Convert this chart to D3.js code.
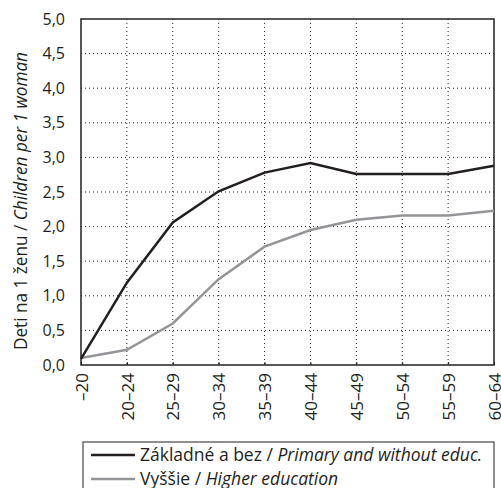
<!DOCTYPE html>
<html>
<head>
<meta charset="utf-8">
<script src="https://cdn.jsdelivr.net/npm/d3@7"></script>
<style>
  body { margin: 0; background: #fff; }
  svg text { font-family: "Open Sans", "DejaVu Sans", sans-serif; fill: #231f20; }
</style>
</head>
<body>
<svg id="chart" width="501" height="488"></svg>
<script>
const ageGroups = ["–20", "20–24", "25–29", "30–34", "35–39", "40–44", "45–49", "50–54", "55–59", "60–64"];
const primaryValues = [0.09, 1.19, 2.06, 2.51, 2.78, 2.92, 2.76, 2.76, 2.76, 2.88];
const higherValues = [0.10, 0.22, 0.60, 1.24, 1.71, 1.95, 2.10, 2.16, 2.16, 2.23];
const yTicks = [0, 0.5, 1, 1.5, 2, 2.5, 3, 3.5, 4, 4.5, 5];
const seriesNames = [
  { main: "Základné a bez / ", en: "Primary and without educ." },
  { main: "Vyššie / ", en: "Higher education" }
];

const margin = { top: 19, right: 7, bottom: 123, left: 81 };
const width = 501, height = 488;

const svg = d3.select("#chart");

const x = d3.scalePoint()
  .domain(ageGroups)
  .range([margin.left, width - margin.right]);

const y = d3.scaleLinear()
  .domain([0, 5])
  .range([height - margin.bottom, margin.top]);

// grid
const grid = svg.append("g");
grid.selectAll("line.h")
  .data(yTicks.slice(1, -1))
  .join("line")
  .attr("x1", margin.left).attr("x2", width - margin.right)
  .attr("y1", d => y(d)).attr("y2", d => y(d))
  .attr("stroke", "#231f20").attr("stroke-width", 1)
  .attr("stroke-dasharray", "1,3");
grid.selectAll("line.v")
  .data(ageGroups.slice(1, -1))
  .join("line")
  .attr("x1", d => x(d)).attr("x2", d => x(d))
  .attr("y1", margin.top).attr("y2", height - margin.bottom)
  .attr("stroke", "#231f20").attr("stroke-width", 1)
  .attr("stroke-dasharray", "1,3");

// frame
svg.append("rect")
  .attr("x", margin.left).attr("y", margin.top)
  .attr("width", width - margin.left - margin.right)
  .attr("height", height - margin.top - margin.bottom)
  .attr("fill", "none").attr("stroke", "#231f20").attr("stroke-width", 1.5);

// y axis
const yAxis = svg.append("g")
  .attr("transform", `translate(${margin.left},0)`)
  .call(d3.axisLeft(y).tickValues(yTicks).tickSize(0).tickPadding(16)
    .tickFormat(d => d3.format(".1f")(d).replace(".", ",")));
yAxis.select(".domain").remove();
yAxis.selectAll("text").style("font-size", "16px").style("font-family", "Open Sans, sans-serif");

// x axis
const xAxis = svg.append("g")
  .attr("transform", `translate(0,${height - margin.bottom})`)
  .call(d3.axisBottom(x).tickSize(-3));
xAxis.select(".domain").remove();
xAxis.selectAll("line").attr("stroke", "#231f20");
xAxis.selectAll("text")
  .attr("transform", "rotate(-90)")
  .attr("x", -8).attr("y", 0).attr("dy", "0.36em")
  .attr("text-anchor", "end")
  .style("font-size", "17px").style("font-family", "Open Sans, sans-serif");

// y title
const yTitle = svg.append("text")
  .attr("transform", "translate(27,201) rotate(-90)")
  .attr("text-anchor", "middle")
  .attr("textLength", 298)
  .attr("lengthAdjust", "spacingAndGlyphs")
  .style("font-size", "18px");
yTitle.append("tspan").text("Deti na 1 ženu / ");
yTitle.append("tspan").style("font-style", "italic").text("Children per 1 woman");

// lines
const line = d3.line()
  .x((d, i) => x(ageGroups[i]))
  .y(d => y(d));

svg.append("path").datum(higherValues)
  .attr("d", line).attr("fill", "none")
  .attr("stroke", "#939598").attr("stroke-width", 2.5);
svg.append("path").datum(primaryValues)
  .attr("d", line).attr("fill", "none")
  .attr("stroke", "#231f20").attr("stroke-width", 2.5);

// legend
const legend = svg.append("g");
legend.append("rect")
  .attr("x", 83).attr("y", 442).attr("width", 411).attr("height", 60)
  .attr("fill", "none").attr("stroke", "#231f20").attr("stroke-width", 1);
const colors = ["#231f20", "#939598"];
seriesNames.forEach((s, i) => {
  const ly = 455 + i * 24;
  legend.append("line")
    .attr("x1", 91).attr("x2", 135).attr("y1", ly).attr("y2", ly)
    .attr("stroke", colors[i]).attr("stroke-width", 2.5);
  const t = legend.append("text")
    .attr("x", 140).attr("y", ly).attr("dy", "0.36em")
    .style("font-size", "17.5px");
  t.append("tspan").text(s.main);
  t.append("tspan").style("font-style", "italic").text(s.en);
});
</script>
</body>
</html>
